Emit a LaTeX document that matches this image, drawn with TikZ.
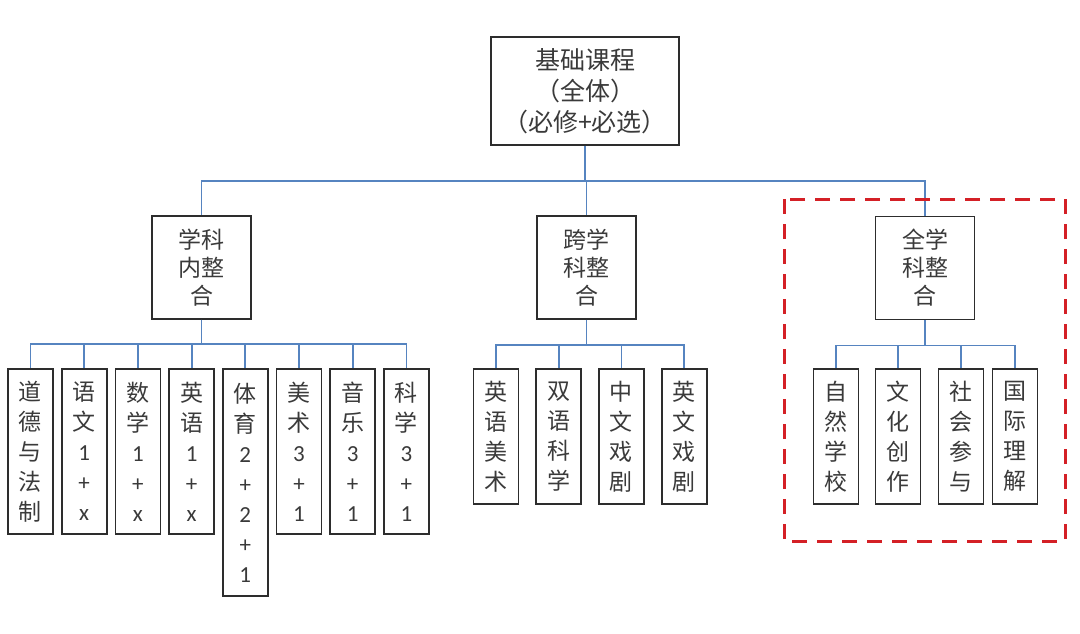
\documentclass[tikz,border=0pt]{standalone}
\usepackage{fontspec}
\setmainfont{Noto Sans CJK SC}
\newfontfamily\lat{Carlito}
\definecolor{linkblue}{RGB}{86,132,192}
\definecolor{boxgray}{RGB}{45,45,45}
\definecolor{txtgray}{RGB}{58,58,58}
\definecolor{framered}{RGB}{212,32,38}

\begin{document}
\begin{tikzpicture}[x=1pt,y=-1pt,
  box/.style={draw=boxgray, line width=1.8pt, text=txtgray, align=center, inner sep=0pt},
  mid/.style={box, minimum width=99pt, minimum height=103pt, font=\fontsize{23}{28}\selectfont},
  leaf/.style={box, anchor=north, minimum width=45pt, font=\fontsize{23}{30}\selectfont},
  link/.style={draw=linkblue, line width=1.8pt},
  redframe/.style={draw=framered, line width=3pt, dash pattern=on 15pt off 10pt}]
\useasboundingbox (0,0) rectangle (1080,634);

\node[box, minimum width=188pt, minimum height=108pt, font=\fontsize{25}{31}\selectfont] (root) at (585,91) {基础课程\\（全体）\\（必修+必选）};

\node[mid] (intra) at (201.5,267.5) {学科\\内整\\合};
\node[mid] (cross) at (586.5,267.5) {跨学\\科整\\合};
\node[mid] (whole) at (925,268) {全学\\科整\\合};

\foreach \nm in {intra,cross,whole}
  \draw[link] (root.south) -- ++(0,35) -| (\nm.north);

\foreach \nm/\h/\txt [count=\i from 0] in {
  moral/165/{道\\德\\与\\法\\制},
  chinese/165/{语\\文\\{\lat 1}\\{\lat +}\\{\lat x}},
  math/165/{数\\学\\{\lat 1}\\{\lat +}\\{\lat x}},
  english/165/{英\\语\\{\lat 1}\\{\lat +}\\{\lat x}},
  pe/227/{体\\育\\{\lat 2}\\{\lat +}\\{\lat 2}\\{\lat +}\\{\lat 1}},
  art/165/{美\\术\\{\lat 3}\\{\lat +}\\{\lat 1}},
  music/165/{音\\乐\\{\lat 3}\\{\lat +}\\{\lat 1}},
  science/165/{科\\学\\{\lat 3}\\{\lat +}\\{\lat 1}}} {
  \node[leaf, minimum height=\h pt] (\nm) at ({30.5+53.7*\i},368) {\txt};
  \draw[link] (intra.south) -- ++(0,24) -| (\nm.north);
}

\foreach \nm/\txt [count=\i from 0] in {
  enart/{英\\语\\美\\术}, bisci/{双\\语\\科\\学},
  cndrama/{中\\文\\戏\\剧}, endrama/{英\\文\\戏\\剧}} {
  \node[leaf, minimum height=135pt] (\nm) at ({496+62.7*\i},368) {\txt};
  \draw[link] (cross.south) -- ++(0,25) -| (\nm.north);
}

\foreach \nm/\x/\txt in {
  nature/836/{自\\然\\学\\校}, culture/898/{文\\化\\创\\作},
  social/961/{社\\会\\参\\与}, intl/1015/{国\\际\\理\\解}} {
  \node[leaf, minimum height=135pt] (\nm) at (\x,368) {\txt};
  \draw[link] (whole.south) -- ++(0,25) -| (\nm.north);
}

\draw[redframe] (784,199) rectangle (1065,541);
\end{tikzpicture}
\end{document}
